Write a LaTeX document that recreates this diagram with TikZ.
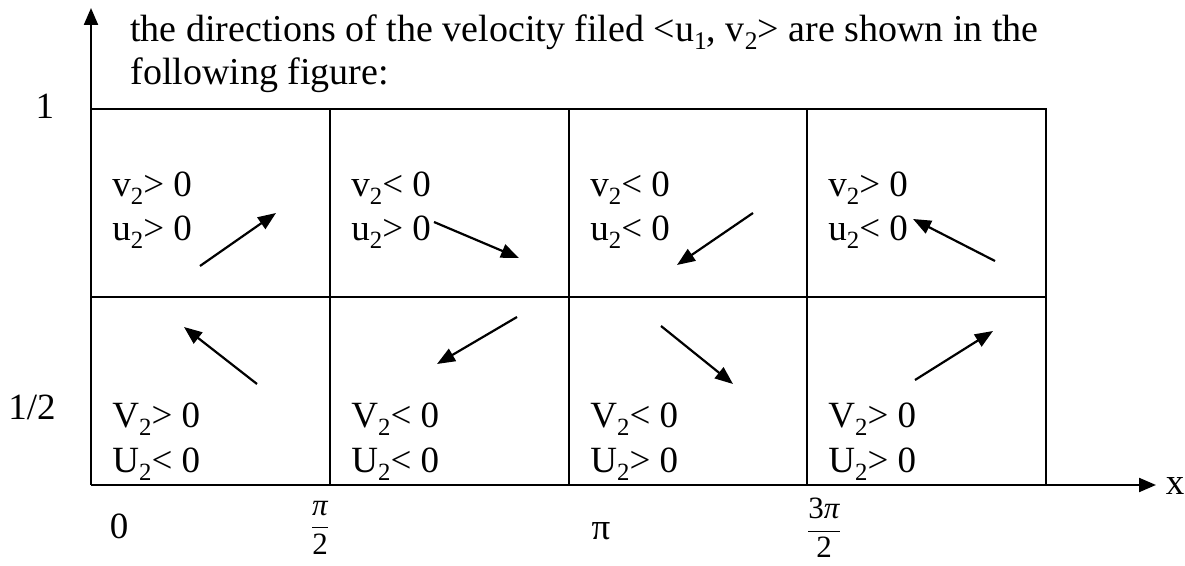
\documentclass[tikz,border=0pt]{standalone}
\usepackage{graphicx}
\usepackage{fontspec}
\setmainfont{Liberation Serif}
\usetikzlibrary{arrows.meta}
\newcommand{\idx}[1]{\raisebox{-.21em}{\scalebox{.67}{#1}}}
\newcommand{\sgn}[2]{#1\idx{2}#2 0}
\tikzset{
  gridline/.style={line width=1pt},
  vec/.style={line width=1.1pt,-{Triangle[length=9pt,width=7pt]}},
  axis/.style={line width=1.1pt,-{Triangle[length=8.5pt,width=7pt]}},
  cell/.style={anchor=base west,inner sep=0pt,font=\fontsize{18.5}{21}\selectfont},
  ticklbl/.style={anchor=base,inner sep=0pt,font=\fontsize{18.5}{21}\selectfont},
  frac/.style={inner sep=0pt,font=\fontsize{15.5}{18}\selectfont},
  note/.style={anchor=base west,inner sep=0pt,font=\fontsize{19}{22}\selectfont},
}

\begin{document}
\begin{tikzpicture}[x=.5pt,y=-.5pt]
  \useasboundingbox (0,0) rectangle (1185,566);
  % sentence above the plot
  \node[note] (note1) at (130,42)
    {the directions of the velocity filed <u\idx{1}, v\idx{2}> are shown in the};
  \node[note] (note2) at (130,85) {following figure:};
  % axes and grid
  \coordinate (O) at (91,485);
  \draw[axis] (O) -- (1156,485);
  \draw[axis] (O) -- (91,8);
  \draw[gridline] (91,109) -- (1046,109) -- (1046,485);
  \draw[gridline] (91,297) -- (1046,297);
  \foreach \x in {330,569,807}
    \draw[gridline] (\x,109) -- (\x,485);
  % signs in each cell
  \foreach \x/\i/\a/\b in {112/1/>/>,351/2/</>,590/3/</<,828/4/>/<}{
    \node[cell] (v\i) at (\x,197) {\sgn{v}{\a}};
    \node[cell] (u\i) at (\x,241) {\sgn{u}{\b}};
  }
  \foreach \x/\i/\a/\b in {112/1/>/<,351/2/</<,590/3/</>,828/4/>/>}{
    \node[cell] (V\i) at (\x,428) {\sgn{V}{\a}};
    \node[cell] (U\i) at (\x,473) {\sgn{U}{\b}};
  }
  % velocity directions
  \foreach \xa/\ya/\xb/\yb in {200/266/276/213,434/222/519/258,753/213/677/265,995/261/913/219,
                               257/384/184/327,517/317/437/364,661/326/733/384,915/380/993/331}
    \draw[vec] (\xa,\ya) -- (\xb,\yb);
  % axis labels
  \node[ticklbl] (one) at (45,119) {1};
  \node[ticklbl] (half) at (32,420) {1/2};
  \node[ticklbl] (zero) at (119,539) {0};
  \node[ticklbl] (pi) at (601,540) {π};
  \node[frac] (halfpi) at (320,528) {$\displaystyle\frac{\mbox{\itshape π}}{\mbox{2}}$};
  \node[frac] (threehalfpi) at (824,528) {$\displaystyle\frac{\mbox{3\itshape π}}{\mbox{2}}$};
  \node[ticklbl] (xlbl) at (1175,495) {x};
\end{tikzpicture}
\end{document}
